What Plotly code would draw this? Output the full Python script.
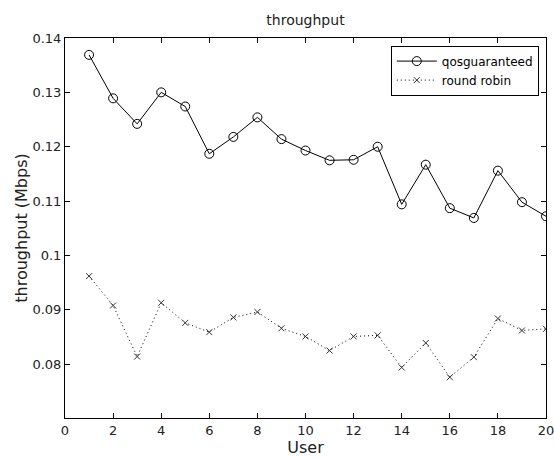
import plotly.graph_objects as go

users = list(range(1, 21))
qos_guaranteed = [0.1369, 0.1289, 0.1242, 0.1300, 0.1274, 0.1187, 0.1218, 0.1254, 0.1214, 0.1193,
                  0.1175, 0.1176, 0.1200, 0.1094, 0.1167, 0.1087, 0.1069, 0.1156, 0.1098, 0.1072]
round_robin = [0.0962, 0.0908, 0.0814, 0.0913, 0.0876, 0.0859, 0.0886, 0.0896, 0.0866, 0.0851,
               0.0825, 0.0851, 0.0853, 0.0794, 0.0839, 0.0776, 0.0813, 0.0884, 0.0862, 0.0865]
x_ticks = [0, 2, 4, 6, 8, 10, 12, 14, 16, 18, 20]
y_ticks = [0.08, 0.09, 0.10, 0.11, 0.12, 0.13, 0.14]
y_tick_labels = ["0.08", "0.09", "0.1", "0.11", "0.12", "0.13", "0.14"]

FONT = "DejaVu Sans, sans-serif"
W, H = 554, 459

fig = go.Figure()
fig.add_trace(go.Scatter(
    x=users, y=qos_guaranteed, name="qosguaranteed", mode="lines+markers",
    line=dict(color="black", width=1),
    marker=dict(symbol="circle-open", size=9, color="black", line=dict(width=1)),
))
fig.add_trace(go.Scatter(
    x=users, y=round_robin, name="round robin", mode="lines+markers",
    line=dict(color="black", width=1, dash="1px,3px"),
    marker=dict(symbol="x-thin-open", size=6, color="#333333", line=dict(width=1, color="#333333")),
))

axis_common = dict(
    showline=True, linecolor="black", linewidth=1, mirror="ticks",
    ticks="inside", ticklen=5, tickcolor="black", showgrid=False, zeroline=False,
    tickfont=dict(family=FONT, size=13, color="#222222"),
    automargin=False, ticklabeloverflow="allow",
)

fig.update_layout(
    width=W, height=H,
    margin=dict(l=65, r=W - 546, t=38, b=H - 418),
    paper_bgcolor="white", plot_bgcolor="white",
    title=dict(text="throughput", xref="paper", x=0.5, xanchor="center",
               yref="container", y=1 - 20 / H, yanchor="middle",
               font=dict(family=FONT, size=14, color="#222222")),
    xaxis=dict(range=[0, 20], tickvals=x_ticks,
               title=dict(text="User", font=dict(family=FONT, size=16, color="#222222"), standoff=0),
               **axis_common),
    yaxis=dict(range=[0.0701, 0.14], tickvals=y_ticks, ticktext=y_tick_labels,
               title=dict(text="throughput (Mbps)", font=dict(family=FONT, size=16, color="#222222"), standoff=0),
               **axis_common),
    legend=dict(x=0.985, y=0.98, xanchor="right", yanchor="top",
                bgcolor="white", bordercolor="black", borderwidth=1,
                font=dict(family=FONT, size=12, color="black"),
                itemwidth=40, tracegroupgap=0),
    showlegend=True,
)

fig.write_html("out.html",
               config={"displayModeBar": False},
               post_script="document.body.style.margin='0';document.body.style.overflow='hidden';")
